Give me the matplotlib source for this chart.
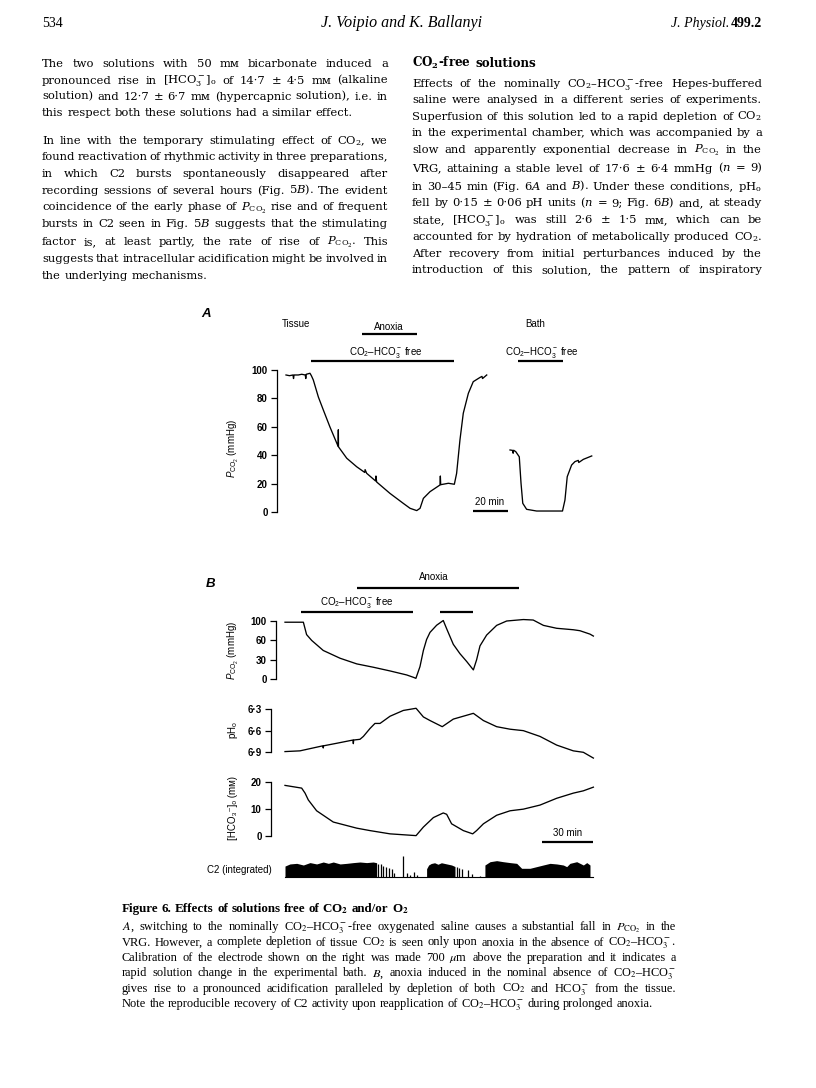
import matplotlib
matplotlib.use('Agg')
import matplotlib.pyplot as plt
import matplotlib.transforms as mtransforms
import numpy as np

# page / figure geometry is in pixels of the 816x1088 page
W, H = 816, 1088

plt.rcParams['font.family'] = ['Liberation Sans', 'DejaVu Sans']
plt.rcParams['mathtext.fontset'] = 'custom'
plt.rcParams['mathtext.rm'] = 'Liberation Sans'
plt.rcParams['mathtext.it'] = 'Liberation Sans:italic'
plt.rcParams['mathtext.bf'] = 'Liberation Sans:bold'
plt.rcParams['mathtext.sf'] = 'Liberation Sans'

# ---------------- Fig. 6A : P_CO2 (min, mmHg) ----------------
tissue_t = [0, 2, 4, 4.3, 4.6, 7, 9, 11, 11.3, 11.6, 13.7, 14.5, 15.6, 18.5, 21.3,
            25.1, 29.8, 29.9, 30.0, 34.7, 40.4, 45.0, 45.2, 46.1, 51.2, 51.4, 51.8,
            59.4, 67.0, 70.9, 74.7, 76.6, 78.5, 82.3, 88.0, 88.2, 88.4, 92.8, 96.2,
            97.5, 99.4, 101.3, 104.2, 107.0, 110.9, 112.0, 112.3, 114.7]
tissue_p = [96.5, 96, 96.5, 94, 96.5, 96.5, 97, 96.5, 94, 97, 97.7, 96, 93, 81, 72,
            60, 46.3, 58, 46, 38, 32, 28, 30, 27.4, 22, 25.5, 21.3,
            13.3, 6.3, 2.8, 1.2, 2.8, 9.8, 14.5, 19.2, 25.5, 19.4, 20.4, 19.7,
            27.4, 50.8, 69.6, 83.6, 91.8, 94.8, 95.5, 94, 96.5]

bath_t = [0, 1.5, 1.8, 2.1, 3.3, 5.3, 6.3, 7.3, 9.5, 15.2, 30.0, 31.4, 32.7, 35.2,
          37.1, 39, 39.3, 41.9, 46.7]
bath_p = [43.8, 43.5, 41.5, 43.6, 42.6, 39, 20.4, 6.3, 2.1, 0.9, 0.9, 8.6, 25, 33.2,
          35.6, 36.5, 35, 37.2, 39.6]
bath_start = 128          # where the bath record starts on the 6A time axis (min)

a_yticks = [0, 20, 40, 60, 80, 100]
a_co2free = (14.1, 96.2)
a_anoxia = (43.3, 74.7)
bath_co2free = (4.8, 30.1)
a_scale = (106.9, 126.9)   # 20 min

# ---------------- Fig. 6B (min) ----------------
b_pco2_t = [0, 10.8, 12.7, 15.7, 22.5, 32.4, 42.2, 52, 61.8, 71.6, 75.5, 77, 79.4,
            81.4, 83.3, 85.3, 89.2, 93.1, 95.1, 99, 102.9, 106.9, 110.8, 112.7, 114.7,
            118.6, 124.5, 130.4, 140.2, 146, 152, 159.8, 169.6, 173.5, 179.4, 181.4]
b_pco2 = [97.5, 97.5, 72, 60, 44.5, 32.5, 23.8, 18.6, 12.9, 6.7, 3.1, 1.5, 19.6,
          44.5, 62, 76.6, 91.3, 101, 84, 54, 39.6, 27.4, 14.5, 30, 51.6,
          71, 91, 100, 103, 102, 91, 85, 82, 80, 73, 69]

b_ph_t = [0, 8.8, 22.3, 22.5, 22.7, 30.4, 40.0, 40.2, 40.4, 44.1, 46.1, 50, 52.9,
          55.9, 61.8, 69.6, 77.1, 81.4, 85.3, 92.5, 99, 110.8, 116.7, 124.5, 132.4,
          140.2, 150, 159.8, 169.6, 175.5, 181.4]
b_ph = [6.89, 6.88, 6.81, 6.84, 6.81, 6.775, 6.73, 6.78, 6.73, 6.72, 6.68, 6.57, 6.50,
        6.50, 6.40, 6.32, 6.29, 6.41, 6.46, 6.545, 6.44, 6.36, 6.46, 6.545, 6.58,
        6.60, 6.68, 6.80, 6.88, 6.90, 6.98]

b_hco3_t = [0, 9.8, 11.8, 13.7, 18.6, 28.4, 42.2, 50, 61.8, 77.1, 81.4, 87.3, 93.1,
            95.1, 98, 104.9, 110.4, 112.7, 116.7, 124.5, 132.4, 140.2, 150, 159.8,
            169.6, 175.5, 181.4]
b_hco3 = [18.75, 17.75, 15.9, 13.4, 9.4, 5.25, 3.0, 2.1, 0.9, 0.25, 3.4, 6.9, 8.6,
          8.1, 4.6, 2.1, 0.9, 2.1, 4.6, 7.75, 9.4, 10, 11.5, 14, 15.9, 16.75, 18.1]

# C2 integrated activity (relative height): dense burst blocks + single bursts
c2_blk1_t = [0, 2.9, 6.9, 10.8, 14.7, 18.6, 22.5, 25.5, 28.4, 32.4, 36.3, 40.2, 44.1,
             48, 51.9, 53.9]
c2_blk1_h = [0.73, 0.87, 0.91, 0.8, 0.96, 0.87, 1.0, 0.91, 1.0, 0.87, 0.91, 0.96, 1.0,
             0.96, 1.0, 0.95]
c2_blk2_t = [83.3, 84.5, 86, 88, 90, 92, 94, 96, 98, 100]
c2_blk2_h = [0.55, 0.8, 0.9, 0.95, 0.85, 0.95, 0.9, 0.85, 0.8, 0.7]
c2_blk3_t = [117.6, 120.6, 124.5, 128.4, 132.4, 136.3, 139.2, 144.1, 148, 151.9, 155.9,
             159.8, 163.7, 165.7, 167.6, 171.6, 175.5, 177.5, 179.4]
c2_blk3_h = [0.8, 1.02, 1.09, 1.02, 0.96, 0.91, 0.58, 0.58, 0.69, 0.8, 0.91, 0.87, 0.8,
             0.69, 0.91, 1.02, 0.8, 0.96, 0.8]
c2_single_t = [54.9, 56.3, 57.8, 59.4, 61.0, 62.7, 64.1, 69.6, 72.0, 73.5, 75.9, 77.5,
               101.0, 102.5, 103.9, 107.8, 109.8, 114.7]
c2_single_h = [0.9, 0.85, 0.75, 0.7, 0.6, 0.55, 0.3, 1.4, 0.25, 0.15, 0.35, 0.15,
               0.65, 0.6, 0.55, 0.5, 0.2, 0.1]

b_pco2_ticks = [0, 30, 60, 100]
ph_ticks = [6.3, 6.6, 6.9]
ph_labels = ['6·3', '6·6', '6·9']
hco3_ticks = [0, 10, 20]
b_anoxia = (42.2, 137.8)
b_co2free = [(9.2, 75.1), (91.2, 110.4)]
b_scale = (151.0, 181.4)   # 30 min

# ---------------- page text ----------------
left_par1 = [
    "The two solutions with 50 mᴍ bicarbonate induced a",
    "pronounced rise in [HCO$_3^-$]$_\\mathrm{o}$ of 14·7 ± 4·5 mᴍ (alkaline",
    "solution) and 12·7 ± 6·7 mᴍ (hypercapnic solution), i.e. in",
    "this respect both these solutions had a similar effect.",
]
left_par1_y = [67.3, 83.5, 99.5, 115.7]
left_par2 = [
    "In line with the temporary stimulating effect of CO$_2$, we",
    "found reactivation of rhythmic activity in three preparations,",
    "in which C2 bursts spontaneously disappeared after",
    "recording sessions of several hours (Fig. 5$B$). The evident",
    "coincidence of the early phase of $P_{\\mathrm{CO}_2}$ rise and of frequent",
    "bursts in C2 seen in Fig. 5$B$ suggests that the stimulating",
    "factor is, at least partly, the rate of rise of $P_{\\mathrm{CO}_2}$. This",
    "suggests that intracellular acidification might be involved in",
    "the underlying mechanisms.",
]
left_par2_y = [144, 160.5, 177, 193.5, 210.5, 227, 245, 262, 278.7]
right_head = "CO$_\\mathbf{2}$-free solutions"
right_lines = [
    "Effects of the nominally CO$_2$–HCO$_3^-$-free Hepes-buffered",
    "saline were analysed in a different series of experiments.",
    "Superfusion of this solution led to a rapid depletion of CO$_2$",
    "in the experimental chamber, which was accompanied by a",
    "slow and apparently exponential decrease in $P_{\\mathrm{CO}_2}$ in the",
    "VRG, attaining a stable level of 17·6 ± 6·4 mmHg ($n$ = 9)",
    "in 30–45 min (Fig. 6$A$ and $B$). Under these conditions, pH$_\\mathrm{o}$",
    "fell by 0·15 ± 0·06 pH units ($n$ = 9; Fig. 6$B$) and, at steady",
    "state, [HCO$_3^-$]$_\\mathrm{o}$ was still 2·6 ± 1·5 mᴍ, which can be",
    "accounted for by hydration of metabolically produced CO$_2$.",
    "After recovery from initial perturbances induced by the",
    "introduction of this solution, the pattern of inspiratory",
]
right_y = [86.7, 103.3, 119.5, 135.5, 153.3, 171.5, 189.5, 206.5, 223.3, 240, 256.7, 273.3]

caption_title = "Figure 6. Effects of solutions free of CO$_\\mathbf{2}$ and/or O$_\\mathbf{2}$"
caption_lines = [
    "$A$, switching to the nominally CO$_2$–HCO$_3^-$-free oxygenated saline causes a substantial fall in $P_{\\mathrm{CO}_2}$ in the",
    "VRG. However, a complete depletion of tissue CO$_2$ is seen only upon anoxia in the absence of CO$_2$–HCO$_3^-$.",
    "Calibration of the electrode shown on the right was made 700 $\\mu$m above the preparation and it indicates a",
    "rapid solution change in the experimental bath. $B$, anoxia induced in the nominal absence of CO$_2$–HCO$_3^-$",
    "gives rise to a pronounced acidification paralleled by depletion of both CO$_2$ and HCO$_3^-$ from the tissue.",
    "Note the reproducible recovery of C2 activity upon reapplication of CO$_2$–HCO$_3^-$ during prolonged anoxia.",
]
caption_y = [930, 945.5, 961, 976.3, 991.7, 1007]

fig = plt.figure(figsize=(W / 100, H / 100), dpi=100)
fig.patch.set_facecolor('white')
R = fig.canvas.get_renderer()


def fy(ypix):
    return 1 - ypix / H


def put_line(s, x0, x1, ybase, justify, size, family, math='stix', **kw):
    words = s.split(' ')
    while True:
        opts = dict(fontsize=size, family=family, math_fontfamily=math,
                    va='baseline', ha='left', **kw)
        texts = [fig.text(0, fy(ybase), w, **opts) for w in words]
        widths = [t.get_window_extent(R).width for t in texts]
        a = fig.text(0, 0, 'x x', **opts)
        b = fig.text(0, 0, 'xx', **opts)
        space = a.get_window_extent(R).width - b.get_window_extent(R).width
        a.remove()
        b.remove()
        need = sum(widths) + 0.4 * space * (len(words) - 1)
        if not justify or need <= x1 - x0 or size < 5:
            break
        for t in texts:
            t.remove()
        size *= 0.985
    if justify and len(words) > 1:
        space = (x1 - x0 - sum(widths)) / (len(words) - 1)
    x = x0
    for t, w in zip(texts, widths):
        t.set_x(x / W)
        x += w + space


SERIF = ['Liberation Serif', 'DejaVu Serif', 'DejaVu Sans']
BODYF = ['DejaVu Serif', 'DejaVu Sans']

# header
fig.text(42 / W, fy(27), '534', fontsize=10, family=SERIF, va='baseline')
fig.text(402 / W, fy(27), 'J. Voipio and K. Ballanyi', fontsize=11.5, family=SERIF,
         style='italic', ha='center', va='baseline')
t_num = fig.text(762 / W, fy(27), '499.2', fontsize=10, family=SERIF, weight='bold',
                 ha='right', va='baseline')
wnum = t_num.get_window_extent(R).width
fig.text((762 - wnum - 1) / W, fy(27), 'J. Physiol.', fontsize=10, family=SERIF,
         style='italic', ha='right', va='baseline')

# body columns
BODY = 8.25
for i, (s, y) in enumerate(zip(left_par1, left_par1_y)):
    put_line(s, 42, 388, y, i < len(left_par1) - 1, BODY, BODYF, 'dejavuserif')
for i, (s, y) in enumerate(zip(left_par2, left_par2_y)):
    put_line(s, 42, 388, y, i < len(left_par2) - 1, BODY, BODYF, 'dejavuserif')
put_line(right_head, 412, 762, 66.7, False, 8.6, BODYF, 'dejavuserif', weight='bold')
for s, y in zip(right_lines, right_y):
    put_line(s, 412, 762, y, True, BODY, BODYF, 'dejavuserif')

# caption
put_line(caption_title, 122, 676, 911.7, False, 9.4, SERIF, weight='bold')
for i, (s, y) in enumerate(zip(caption_lines, caption_y)):
    put_line(s, 122, 676, y, i < len(caption_lines) - 1, 8.9, SERIF)


# ---------------- axes helpers ----------------
def add_ax(x0, y0, x1, y1):
    ax = fig.add_axes([x0 / W, fy(y1), (x1 - x0) / W, (y1 - y0) / H])
    ax.patch.set_visible(False)
    for s in ['top', 'right', 'bottom']:
        ax.spines[s].set_visible(False)
    ax.set_xticks([])
    return ax


def style_y(ax, offset_px, ticks, labels):
    ax.spines['left'].set_position(('outward', offset_px * 0.72))
    ax.spines['left'].set_linewidth(0.9)
    ax.set_yticks(ticks, labels, fontsize=7, fontweight='bold')
    ax.tick_params(axis='y', length=4.3, width=0.9, pad=2.5)


def bar(ax, t0, t1, ypix, lw=1.6):
    tr = mtransforms.blended_transform_factory(ax.transData, fig.transFigure)
    ax.plot([t0, t1], [fy(ypix), fy(ypix)], color='black', lw=lw, transform=tr,
            clip_on=False, solid_capstyle='butt')


def label(xpix, ypix, s, size=7, **kw):
    fig.text(xpix / W, fy(ypix), s, fontsize=size, ha='center', va='center', **kw)


TRACE = dict(color='black', lw=0.95, clip_on=False)

# ---------------- panel A ----------------
axA = add_ax(286, 370, 600, 512.3)
axA.set_xlim(0, (600 - 286) / 1.75)
axA.set_ylim(0, 100)
style_y(axA, 9, a_yticks, [str(v) for v in a_yticks])
axA.plot(tissue_t, tissue_p, **TRACE)
axA.plot(np.array(bath_t) + bath_start, bath_p, **TRACE)
bar(axA, *a_anoxia, 334.3)
bar(axA, *a_co2free, 360.7)
bar(axA, bath_start + bath_co2free[0], bath_start + bath_co2free[1], 361)
bar(axA, *a_scale, 510.7)

label(206, 314, 'A', size=9.5, weight='bold', style='italic')
label(295.5, 324, 'Tissue')
label(389, 327, 'Anoxia')
label(386, 352, 'CO$_2$–HCO$_3^-$ free')
label(535.5, 324, 'Bath')
label(541.7, 352.3, 'CO$_2$–HCO$_3^-$ free')
label(490, 501.7, '20 min')
label(233, 448, '$P_{\\mathrm{CO_2}}$ (mmHg)', rotation=90)

# ---------------- panel B ----------------
XB = (0, (600 - 285) / 1.7)

pk = [0, 30, 60, 100]
pp = [0, 1, 2, 3]


def fwd(v):
    v = np.asarray(v, float)
    return np.where(v > 100, 3 + (v - 100) / 40.0, np.interp(v, pk, pp))


def inv(u):
    u = np.asarray(u, float)
    return np.where(u > 3, 100 + (u - 3) * 40.0, np.interp(u, pp, pk))


axP = add_ax(285, 621, 600, 679.3)
axP.set_xlim(*XB)
axP.set_yscale('function', functions=(fwd, inv))
axP.set_ylim(0, 100)
style_y(axP, 9, b_pco2_ticks, [str(v) for v in b_pco2_ticks])
axP.plot(b_pco2_t, b_pco2, **TRACE)
bar(axP, *b_anoxia, 587.7)
for seg in b_co2free:
    bar(axP, *seg, 611.7)

axH = add_ax(285, 709, 600, 752.3)
axH.set_xlim(*XB)
axH.set_ylim(6.9, 6.3)
style_y(axH, 14, ph_ticks, ph_labels)
axH.plot(b_ph_t, b_ph, **TRACE)

axC = add_ax(285, 782, 600, 836.3)
axC.set_xlim(*XB)
axC.set_ylim(0, 20)
style_y(axC, 14, hco3_ticks, [str(v) for v in hco3_ticks])
axC.plot(b_hco3_t, b_hco3, **TRACE)
bar(axC, *b_scale, 841.7)

axI = add_ax(285, 862, 600, 877)
axI.set_xlim(*XB)
axI.set_ylim(0, 1)
axI.spines['left'].set_visible(False)
axI.set_yticks([])
axI.plot([0, 181.4], [0, 0], color='black', lw=0.8, clip_on=False)
for bt, bh in [(c2_blk1_t, c2_blk1_h), (c2_blk2_t, c2_blk2_h), (c2_blk3_t, c2_blk3_h)]:
    axI.fill_between(bt, 0, bh, color='black', lw=0, clip_on=False)
axI.vlines(c2_single_t, 0, c2_single_h, color='black', lw=0.9, clip_on=False)

label(211, 584, 'B', size=9.5, weight='bold', style='italic')
label(434, 577.3, 'Anoxia')
label(357, 602.7, 'CO$_2$–HCO$_3^-$ free')
label(233, 650, '$P_{\\mathrm{CO_2}}$ (mmHg)', rotation=90)
label(233, 730, 'pH$_\\mathrm{o}$', rotation=90)
label(233, 808, '[HCO₃⁻]ₒ (mᴍ)', rotation=90)
label(568, 833.3, '30 min')
fig.text(272 / W, fy(870), 'C2 (integrated)', fontsize=7, ha='right', va='center')

fig.savefig('out.png', dpi=100)
